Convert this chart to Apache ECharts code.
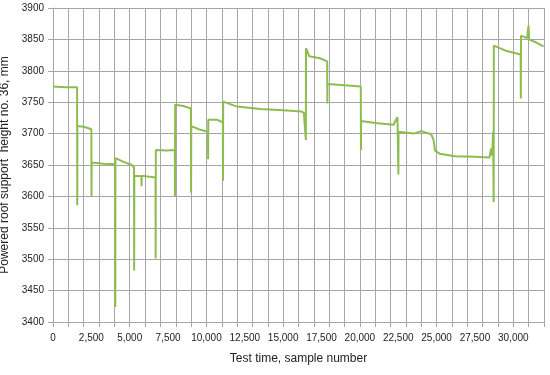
<!DOCTYPE html>
<html>
<head>
<meta charset="utf-8">
<script src="https://cdn.jsdelivr.net/npm/echarts@6/dist/echarts.min.js"></script>
<style>
  html, body { margin: 0; padding: 0; background: #fff; }
  #chart { width: 550px; height: 375px; }
</style>
</head>
<body>
<div id="chart"></div>
<script>
// points: sample number -> support height (mm)
const sampleNo = [
  0, 800, 1570, 1580, 1590, 2000, 2500, 2510, 2520, 3300,
  4050, 4060, 4070, 4600, 5130, 5280, 5290, 5300, 5760, 5770,
  5780, 6680, 6690, 6700, 7400, 7940, 7950, 7960, 8500, 8990,
  9000, 9010, 9500, 10100, 10110, 10120, 10700, 11070, 11080, 11090,
  12000, 13500, 15000, 16200, 16350, 16480, 16490, 16700, 17400, 17870,
  17880, 17890, 19000, 20060, 20070, 20080, 21000, 22200, 22350, 22450,
  22510, 22520, 23500, 24000, 24650, 24800, 24900, 25200, 26200, 27500,
  28450, 28550, 28620, 28680, 28720, 28730, 29500, 30480, 30490, 30500,
  30900, 30990, 31030, 31500, 31970
];
const heightMm = [
  3775, 3774, 3774, 3586, 3712, 3711, 3707, 3600, 3654, 3652,
  3651, 3424, 3661, 3655, 3650, 3646, 3482, 3633, 3632, 3616,
  3633, 3630, 3501, 3674, 3673, 3674, 3600, 3746, 3744, 3740,
  3606, 3712, 3707, 3703, 3659, 3722, 3722, 3718, 3625, 3751,
  3743, 3739, 3737, 3735, 3733, 3690, 3836, 3823, 3820, 3815,
  3748, 3779, 3777, 3775, 3674, 3720, 3717, 3714, 3722, 3726,
  3635, 3703, 3700, 3704, 3699, 3690, 3673, 3668, 3664, 3663,
  3662, 3676, 3665, 3703, 3591, 3840, 3832, 3826, 3756, 3856,
  3852, 3872, 3850, 3845, 3839
];

const xMin = 0, xMax = 32000;
const yMin = 3400, yMax = 3900;

const gridColor = '#a6a6a6';
const txt = '#222';
const font = 'Liberation Sans';

const chart = echarts.init(document.getElementById('chart'), null, { renderer: 'canvas' });

chart.setOption({
  animation: false,
  grid: { left: 53, right: 6, top: 8, bottom: 53, containLabel: false, outerBoundsMode: 'none' },
  xAxis: [
    {
      type: 'value', min: xMin, max: xMax, interval: 1000,
      axisLine: { lineStyle: { color: gridColor } },
      axisTick: { show: true, length: 5, lineStyle: { color: gridColor } },
      axisLabel: { show: false },
      splitLine: { lineStyle: { color: gridColor, width: 1 } },
      name: 'Test time, sample number',
      nameLocation: 'middle', nameGap: 31,
      nameTextStyle: { fontFamily: font, fontSize: 12, color: txt }
    },
    {
      type: 'value', min: xMin, max: xMax, interval: 2500, position: 'bottom',
      axisLine: { show: false }, axisTick: { show: false }, splitLine: { show: false },
      axisLabel: {
        margin: 11, fontFamily: font, fontSize: 10, color: txt,
        formatter: v => (v % 2500 === 0 ? v.toLocaleString('en-US') : '')
      }
    }
  ],
  yAxis: {
    type: 'value', min: yMin, max: yMax, interval: 50,
    axisLine: { show: true, lineStyle: { color: gridColor } },
    axisTick: { show: true, length: 5, lineStyle: { color: gridColor } },
    axisLabel: { margin: 9, fontFamily: font, fontSize: 10, color: txt, formatter: v => String(v) },
    splitLine: { lineStyle: { color: gridColor, width: 1 } },
    name: 'Powered roof support  height no. 36, mm',
    nameLocation: 'middle', nameGap: 34,
    nameTextStyle: { fontFamily: font, fontSize: 12, color: txt }
  },
  series: [{
    type: 'line',
    xAxisIndex: 0,
    data: sampleNo.map((s, i) => [s, heightMm[i]]),
    showSymbol: false,
    lineStyle: { color: '#8dbd4f', width: 2 },
    itemStyle: { color: '#8dbd4f' }
  }]
});
</script>
</body>
</html>
